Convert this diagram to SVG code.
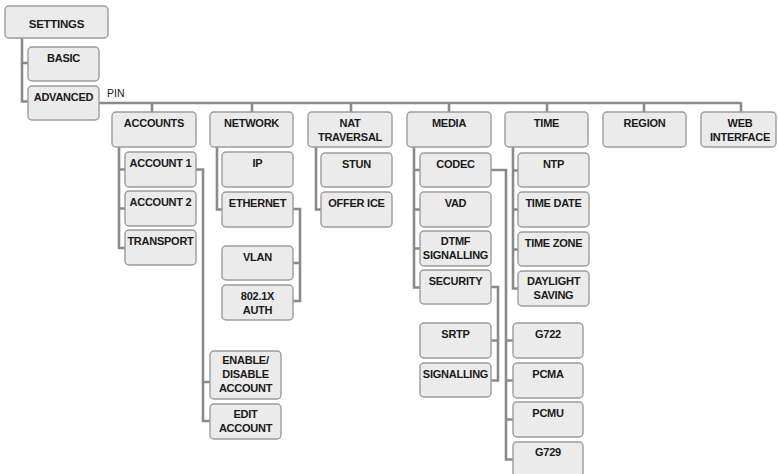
<svg xmlns="http://www.w3.org/2000/svg" width="778" height="474" viewBox="0 0 778 474">
<style>
.b{fill:#ebebeb;stroke:#9c9c9c;stroke-width:1.4}
.t{font-family:"Liberation Sans",Arial,sans-serif;font-weight:bold;font-size:11px;letter-spacing:-0.25px;fill:#1a1a1a;text-anchor:middle}
.c{fill:none;stroke:#8a8a8a;stroke-width:2.6;stroke-linejoin:miter;stroke-linecap:butt}
.p{font-family:"Liberation Sans",Arial,sans-serif;font-size:10.5px;fill:#1a1a1a}
</style>
<rect width="778" height="474" fill="#ffffff"/>
<g id="connectors">
<path class="c" d="M22,38 V101.5 H28 M22,63 H28"/>
<path class="c" d="M99,103 H742 M152,103 V112 M252,103 V112 M351,103 V112 M449,103 V112 M547,103 V112 M644,103 V112 M741,103 V112"/>
<path class="c" d="M119,147 V248 H125 M119,169.5 H125 M119,208.5 H125"/>
<path class="c" d="M196,169.5 H203 V421 H210 M203,382 H210"/>
<path class="c" d="M217,147 V209.5 H222"/>
<path class="c" d="M293,209 H300 V301 H293 M300,263 H293"/>
<path class="c" d="M316,147 V209.5 H321"/>
<path class="c" d="M414,147 V287.5 H420 M414,170 H420 M414,209.5 H420 M414,248.5 H420"/>
<path class="c" d="M491,170 H506 V459.5 H513 M506,340.5 H513 M506,380.5 H513 M506,419.5 H513"/>
<path class="c" d="M491,287 H498 V380.5 H491 M498,340.5 H491"/>
<path class="c" d="M513,147 V288.5 H518 M513,170.5 H518 M513,209.5 H518 M513,249.5 H518"/>
</g>
<text class="p" x="107" y="97">PIN</text>
<g id="settings"><rect class="b" x="5" y="6" width="103" height="32" rx="4"/><text class="t" x="56.5" y="28" style="font-size:11.5px">SETTINGS</text></g>
<g id="basic"><rect class="b" x="28" y="47" width="71" height="34" rx="4"/><text class="t" x="63.5" y="62">BASIC</text></g>
<g id="advanced"><rect class="b" x="28" y="86" width="71" height="34" rx="4"/><text class="t" x="63.5" y="101">ADVANCED</text></g>

<g id="accounts"><rect class="b" x="112" y="112" width="84" height="35" rx="4"/><text class="t" x="154" y="127">ACCOUNTS</text></g>
<g id="network"><rect class="b" x="210" y="112" width="83" height="35" rx="4"/><text class="t" x="251.5" y="127">NETWORK</text></g>
<g id="nat"><rect class="b" x="308" y="112" width="84" height="35" rx="4"/><text class="t" x="350" y="127">NAT</text><text class="t" x="350" y="140.5">TRAVERSAL</text></g>
<g id="media"><rect class="b" x="407" y="112" width="84" height="35" rx="4"/><text class="t" x="449" y="127">MEDIA</text></g>
<g id="time"><rect class="b" x="505" y="112" width="83" height="35" rx="4"/><text class="t" x="546.5" y="127">TIME</text></g>
<g id="region"><rect class="b" x="603" y="112" width="83" height="35" rx="4"/><text class="t" x="644.5" y="127">REGION</text></g>
<g id="web"><rect class="b" x="701" y="112" width="75" height="35" rx="4"/><text class="t" x="740" y="127">WEB</text><text class="t" x="740" y="140.5">INTERFACE</text></g>

<g id="account1"><rect class="b" x="125" y="152" width="71" height="35" rx="4"/><text class="t" x="160.5" y="167">ACCOUNT 1</text></g>
<g id="account2"><rect class="b" x="125" y="191" width="71" height="35" rx="4"/><text class="t" x="160.5" y="206">ACCOUNT 2</text></g>
<g id="transport"><rect class="b" x="125" y="230" width="71" height="35" rx="4"/><text class="t" x="160.5" y="245">TRANSPORT</text></g>
<g id="enable"><rect class="b" x="210" y="351" width="71" height="48" rx="4"/><text class="t" x="245.5" y="364">ENABLE/</text><text class="t" x="245.5" y="378">DISABLE</text><text class="t" x="245.5" y="392">ACCOUNT</text></g>
<g id="edit"><rect class="b" x="210" y="404" width="71" height="35" rx="4"/><text class="t" x="245.5" y="417.5">EDIT</text><text class="t" x="245.5" y="431.5">ACCOUNT</text></g>

<g id="ip"><rect class="b" x="222" y="152" width="71" height="35" rx="4"/><text class="t" x="257.5" y="167">IP</text></g>
<g id="ethernet"><rect class="b" x="222" y="192" width="71" height="35" rx="4"/><text class="t" x="257.5" y="207">ETHERNET</text></g>
<g id="vlan"><rect class="b" x="222" y="246" width="71" height="34" rx="4"/><text class="t" x="257.5" y="261">VLAN</text></g>
<g id="auth"><rect class="b" x="222" y="285" width="71" height="35" rx="4"/><text class="t" x="257.5" y="300">802.1X</text><text class="t" x="257.5" y="314">AUTH</text></g>

<g id="stun"><rect class="b" x="321" y="153" width="71" height="34" rx="4"/><text class="t" x="356.5" y="167.5">STUN</text></g>
<g id="offerice"><rect class="b" x="321" y="192" width="71" height="35" rx="4"/><text class="t" x="356.5" y="207">OFFER ICE</text></g>

<g id="codec"><rect class="b" x="420" y="153" width="71" height="34" rx="4"/><text class="t" x="455.5" y="167.5">CODEC</text></g>
<g id="vad"><rect class="b" x="420" y="192" width="71" height="35" rx="4"/><text class="t" x="455.5" y="207">VAD</text></g>
<g id="dtmf"><rect class="b" x="420" y="231" width="71" height="35" rx="4"/><text class="t" x="455.5" y="245">DTMF</text><text class="t" x="455.5" y="258.5">SIGNALLING</text></g>
<g id="security"><rect class="b" x="420" y="270" width="71" height="34" rx="4"/><text class="t" x="455.5" y="284.5">SECURITY</text></g>
<g id="srtp"><rect class="b" x="420" y="323" width="71" height="35" rx="4"/><text class="t" x="455.5" y="338">SRTP</text></g>
<g id="signalling"><rect class="b" x="420" y="363" width="71" height="34" rx="4"/><text class="t" x="455.5" y="377.5">SIGNALLING</text></g>

<g id="g722"><rect class="b" x="513" y="323" width="70" height="35" rx="4"/><text class="t" x="548" y="338">G722</text></g>
<g id="pcma"><rect class="b" x="513" y="363" width="70" height="35" rx="4"/><text class="t" x="548" y="377.5">PCMA</text></g>
<g id="pcmu"><rect class="b" x="513" y="402" width="70" height="35" rx="4"/><text class="t" x="548" y="417">PCMU</text></g>
<g id="g729"><rect class="b" x="513" y="442" width="70" height="36" rx="4"/><text class="t" x="548" y="456">G729</text></g>

<g id="ntp"><rect class="b" x="518" y="153" width="71" height="34" rx="4"/><text class="t" x="553.5" y="167.5">NTP</text></g>
<g id="timedate"><rect class="b" x="518" y="192" width="71" height="35" rx="4"/><text class="t" x="553.5" y="207">TIME DATE</text></g>
<g id="timezone"><rect class="b" x="518" y="232" width="71" height="34" rx="4"/><text class="t" x="553.5" y="246.5">TIME ZONE</text></g>
<g id="daylight"><rect class="b" x="518" y="271" width="71" height="35" rx="4"/><text class="t" x="553.5" y="285">DAYLIGHT</text><text class="t" x="553.5" y="299">SAVING</text></g>
</svg>
